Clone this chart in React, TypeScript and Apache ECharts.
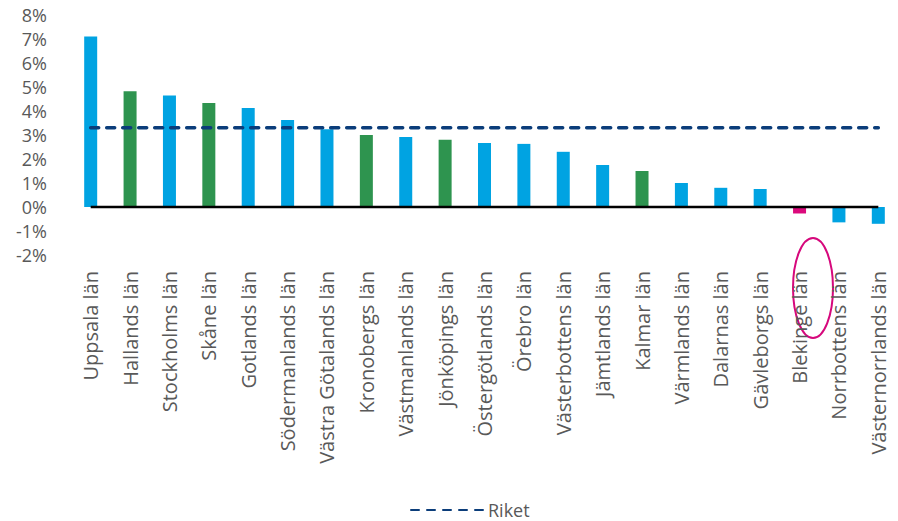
import React, { useEffect, useRef } from "react";
import * as echarts from "echarts";

const categories = [
  "Uppsala län", "Hallands län", "Stockholms län", "Skåne län", "Gotlands län",
  "Södermanlands län", "Västra Götalands län", "Kronobergs län", "Västmanlands län",
  "Jönköpings län", "Östergötlands län", "Örebro län", "Västerbottens län",
  "Jämtlands län", "Kalmar län", "Värmlands län", "Dalarnas län", "Gävleborgs län",
  "Blekinge län", "Norrbottens län", "Västernorrlands län",
];
const values = [
  7.1, 4.82, 4.65, 4.33, 4.12, 3.62, 3.24, 3.0, 2.92, 2.8, 2.67, 2.63, 2.3,
  1.75, 1.5, 1.0, 0.8, 0.75, -0.27, -0.64, -0.7,
];
const groups = [
  "a", "b", "a", "b", "a", "a", "a", "b", "a", "b", "a", "a", "a",
  "a", "b", "a", "a", "a", "c", "a", "a",
];
const riketValue = 3.3;
const riketName = "Riket";

const groupColors: Record<string, string> = { a: "#00A3E2", b: "#2E944F", c: "#DB0A7C" };

export default function App() {
  const ref = useRef<HTMLDivElement>(null);
  useEffect(() => {
    if (!ref.current) return;
    const chart = echarts.init(ref.current, undefined, { renderer: "svg" });
    const font = "'Open Sans', sans-serif";
    chart.setOption({
      animation: false,
      grid: { left: 71, right: -8, top: 15, bottom: 266 },
      legend: {
        data: [riketName],
        left: 405,
        top: 496,
        itemWidth: 72,
        itemHeight: 14,
        itemGap: 6,
        itemStyle: { opacity: 0 },
        textStyle: { color: "#595959", fontSize: 18, fontFamily: font },
      },
      xAxis: {
        type: "category",
        data: categories,
        axisLine: { show: false },
        axisTick: { show: false },
        axisLabel: {
          rotate: 90,
          interval: 0,
          margin: 16,
          color: "#595959",
          fontSize: 20,
          fontFamily: font,
        },
      },
      yAxis: {
        type: "value",
        min: -2,
        max: 8,
        interval: 1,
        splitLine: { show: false },
        axisLine: { show: false },
        axisTick: { show: false },
        axisLabel: {
          margin: 24,
          color: "#595959",
          fontSize: 18,
          fontFamily: font,
          formatter: (v: number) => `${v}%`,
        },
      },
      series: [
        {
          type: "bar",
          barWidth: 13,
          silent: true,
          data: values.map((v, i) => ({ value: v, itemStyle: { color: groupColors[groups[i]] } })),
          z: 2,
        },
        {
          type: "line",
          name: "zero",
          data: categories.map(() => 0),
          symbol: "none",
          silent: true,
          lineStyle: { color: "#000000", width: 2.5 },
          z: 3,
        },
        {
          type: "line",
          name: riketName,
          data: categories.map(() => riketValue),
          symbol: "none",
          lineStyle: { color: "#0B3D7A", width: 3.5, type: [8, 8], cap: "round" },
          itemStyle: { color: "#0B3D7A" },
          z: 4,
        },
      ],
      graphic: [
        {
          type: "ellipse",
          shape: { cx: 813, cy: 288, rx: 20, ry: 50 },
          style: { fill: "none", stroke: "#D6087C", lineWidth: 2 },
        },
      ],
    });
    return () => chart.dispose();
  }, []);
  return (
    <div
      ref={ref}
      style={{ position: "absolute", left: 0, top: 0, width: 898, height: 521, background: "#fff" }}
    />
  );
}
